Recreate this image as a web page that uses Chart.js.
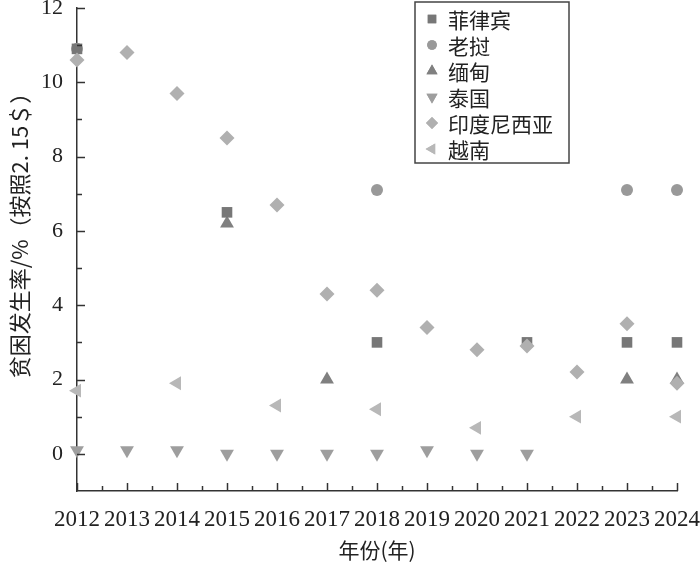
<!DOCTYPE html>
<html>
<head>
<meta charset="utf-8">
<script src="https://cdn.jsdelivr.net/npm/chart.js@4"></script>
<style>
  html, body { margin: 0; padding: 0; background: #fff; }
  #wrap { width: 700px; height: 563px; }
</style>
</head>
<body>
<div id="wrap"><canvas id="povertyChart"></canvas></div>
<script>
// years on the x axis
const years = [2012, 2013, 2014, 2015, 2016, 2017, 2018, 2019, 2020, 2021, 2022, 2023, 2024];

// poverty rate (%) at $2.15, null = no survey that year
const philippines = [10.9, null, null, 6.5, null, null, 3.0, null, null, 3.0, null, 3.0, 3.0];
const laos        = [10.9, null, null, null, null, null, 7.1, null, null, null, null, 7.1, 7.1];
const myanmar     = [null, null, null, 6.2, null, 2.0, null, null, null, null, null, 2.0, 2.0];
const thailand    = [0.1, 0.1, 0.1, 0.0, 0.0, 0.0, 0.0, 0.1, 0.0, 0.0, null, null, null];
const indonesia   = [10.6, 10.8, 9.7, 8.5, 6.7, 4.3, 4.4, 3.4, 2.8, 2.9, 2.2, 3.5, 1.9];
const vietnam     = [1.7, null, 1.9, null, 1.3, null, 1.2, null, 0.7, null, 1.0, null, 1.0];

const seriesNames = ['菲律宾', '老挝', '缅甸', '泰国', '印度尼西亚', '越南'];
const yTickLabels = [0, 2, 4, 6, 8, 10, 12];
const yTitle = '贫困发生率/%（按照2. 15＄）';

const serifFont = "'Liberation Serif', 'Noto Sans CJK SC', serif";
const cjkFont = "'Noto Sans CJK SC', 'Liberation Serif', serif";

function toPoints(values) {
    const pts = [];
    values.forEach((v, i) => {
        if (v !== null) pts.push({ x: years[i], y: v });
    });
    return pts;
}

function makeSet(label, values, color, style, radius, rotation, order) {
    return {
        label: label,
        data: toPoints(values),
        showLine: false,
        clip: false,
        pointStyle: style,
        pointRadius: radius,
        pointRotation: rotation,
        backgroundColor: color,
        borderColor: color,
        borderWidth: 0,
        order: order
    };
}

// inward tick marks, y title, legend box
const decorPlugin = {
    id: 'decor',
    afterDraw(chart) {
        const ctx = chart.ctx;
        const xs = chart.scales.x;
        const ys = chart.scales.y;
        const x0 = xs.left;
        const y0 = ys.bottom;
        ctx.save();
        ctx.strokeStyle = '#333';
        ctx.lineWidth = 1.5;
        // y ticks
        for (let v = 0; v <= 12; v++) {
            const py = Math.round(ys.getPixelForValue(v)) + 0.5;
            const len = v % 2 === 0 ? 8 : 5;
            ctx.beginPath();
            ctx.moveTo(x0, py);
            ctx.lineTo(x0 + len, py);
            ctx.stroke();
        }
        // x ticks
        for (let v = 2012; v <= 2024; v += 0.5) {
            const px = Math.round(xs.getPixelForValue(v)) + 0.5;
            const len = Number.isInteger(v) ? 8 : 5;
            ctx.beginPath();
            ctx.moveTo(px, y0);
            ctx.lineTo(px, y0 - len);
            ctx.stroke();
        }
        // y title
        ctx.save();
        ctx.translate(20, 230);
        ctx.rotate(-Math.PI / 2);
        ctx.font = '22px ' + cjkFont;
        ctx.fillStyle = '#222';
        ctx.textAlign = 'center';
        ctx.textBaseline = 'middle';
        ctx.fillText(yTitle, 0, 0);
        ctx.restore();
        // legend
        const bx = 415, by = 2, bw = 154, bh = 161;
        ctx.fillStyle = '#fff';
        ctx.fillRect(bx, by, bw, bh);
        ctx.strokeStyle = '#444';
        ctx.lineWidth = 1.5;
        ctx.strokeRect(bx, by, bw, bh);
        ctx.font = '21px ' + cjkFont;
        ctx.textBaseline = 'middle';
        chart.data.datasets.forEach((ds, i) => {
            const cy = 19 + i * 26;
            ctx.fillStyle = ds.backgroundColor;
            Chart.helpers.drawPoint(ctx, {
                pointStyle: ds.pointStyle,
                radius: ds.pointRadius * 0.8,
                rotation: ds.pointRotation,
                borderWidth: 0
            }, 432, cy);
            ctx.fill();
            ctx.fillStyle = '#222';
            ctx.fillText(ds.label, 448, cy + 1);
        });
        ctx.restore();
    }
};

const ctx = document.getElementById('povertyChart').getContext('2d');
new Chart(ctx, {
    type: 'scatter',
    data: {
        datasets: [
            makeSet(seriesNames[0], philippines, '#777777', 'rect', 7.5, 0, 2),
            makeSet(seriesNames[1], laos, '#999999', 'circle', 6, 0, 3),
            makeSet(seriesNames[2], myanmar, '#808080', 'triangle', 8, 0, 3),
            makeSet(seriesNames[3], thailand, '#9e9e9e', 'triangle', 8, 180, 1),
            makeSet(seriesNames[4], indonesia, '#b0b0b0', 'rectRot', 7.5, 0, 0),
            makeSet(seriesNames[5], vietnam, '#b8b8b8', 'triangle', 8, 270, 1)
        ]
    },
    options: {
        responsive: true,
        maintainAspectRatio: false,
        animation: false,
        layout: { padding: { top: 8, right: 23, left: 0, bottom: 0 } },
        plugins: {
            legend: { display: false },
            tooltip: { enabled: false }
        },
        scales: {
            x: {
                type: 'linear',
                min: 2012,
                max: 2024,
                grid: { display: false, drawTicks: false },
                border: { display: true, color: '#333', width: 1.5 },
                ticks: {
                    stepSize: 1,
                    autoSkip: false,
                    maxRotation: 0,
                    padding: 15,
                    color: '#222',
                    font: { family: serifFont, size: 23 },
                    callback: v => String(v)
                },
                title: {
                    display: true,
                    text: '年份(年)',
                    color: '#222',
                    font: { family: cjkFont, size: 21 },
                    padding: { top: 0, bottom: 0 }
                },
                afterFit(scale) {
                    scale.height = 72;
                    scale.paddingLeft = 0;
                    scale.paddingRight = 0;
                }
            },
            y: {
                min: -1,
                max: 12,
                grid: { display: false, drawTicks: false },
                border: { display: true, color: '#333', width: 1.5 },
                ticks: {
                    stepSize: 1,
                    autoSkip: false,
                    padding: 14,
                    color: '#222',
                    font: { family: serifFont, size: 22 },
                    callback: v => (yTickLabels.includes(v) ? String(v) : '')
                },
                afterFit(scale) {
                    scale.width = 77;
                    scale.paddingTop = 0;
                    scale.paddingBottom = 0;
                }
            }
        }
    },
    plugins: [decorPlugin]
});
</script>
</body>
</html>
